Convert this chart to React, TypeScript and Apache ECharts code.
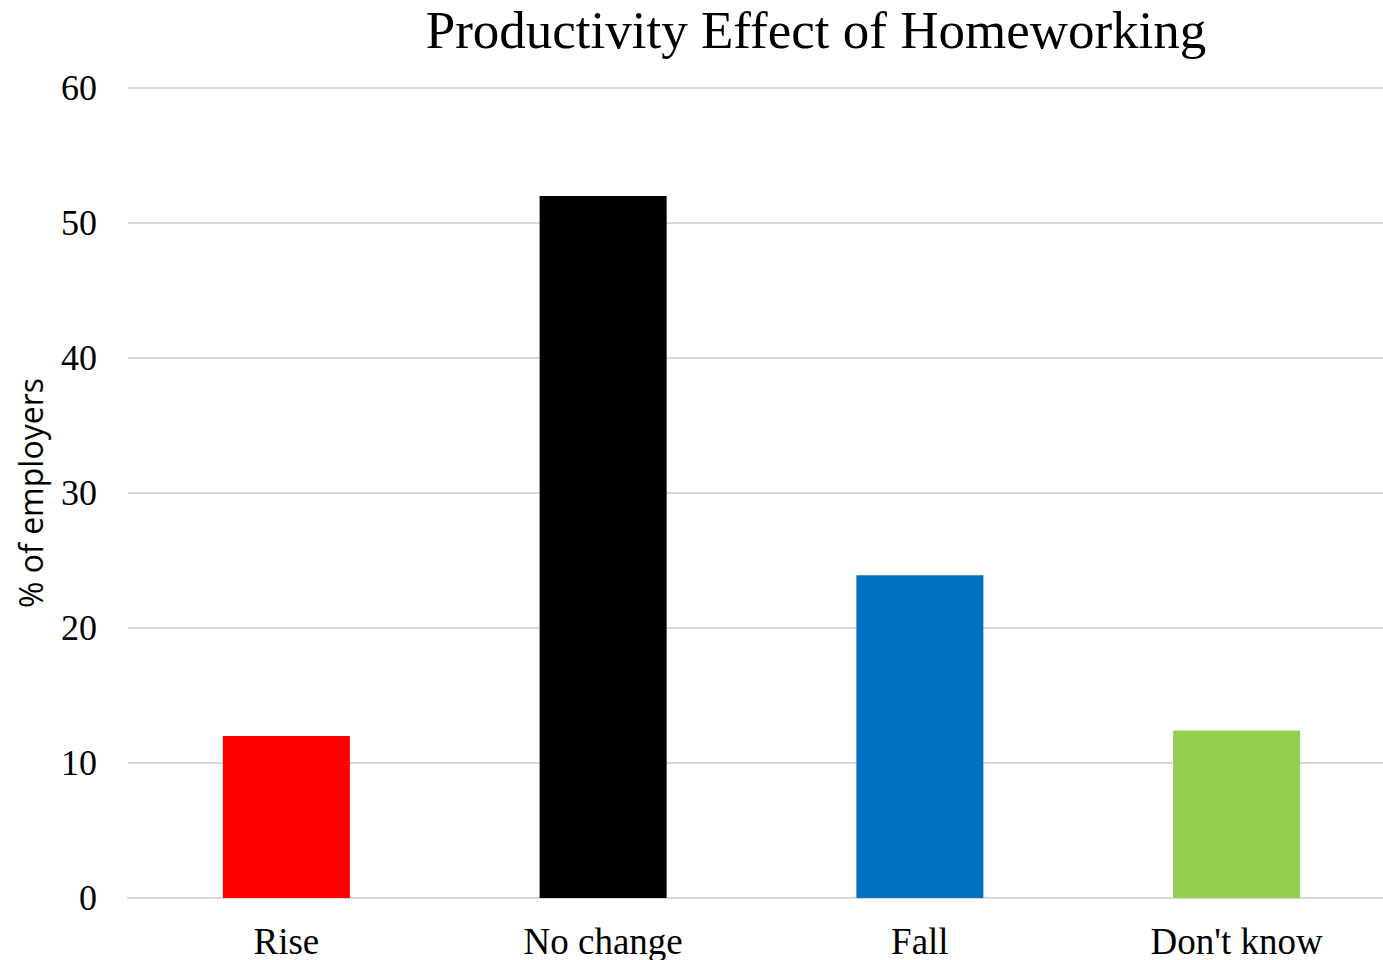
import React, { useEffect, useRef } from "react";
import * as echarts from "echarts";

// Survey responses: share of employers reporting each productivity outcome
const categories = ["Rise", "No change", "Fall", "Don't know"];
const shares = [12, 52, 23.9, 12.4];
const barColors = ["#ff0000", "#000000", "#0070c0", "#92d050"];
const yTicks = { min: 0, max: 60, interval: 10 };

const serif = "'Liberation Serif', 'Times New Roman', serif";

export default function App() {
  const ref = useRef<HTMLDivElement>(null);

  useEffect(() => {
    if (!ref.current) return;
    const chart = echarts.init(ref.current, undefined, { renderer: "svg" });
    chart.setOption({
      animation: false,
      backgroundColor: "#ffffff",
      title: {
        text: "Productivity Effect of Homeworking",
        left: 816,
        top: 0,
        padding: 0,
        textAlign: "center",
        textStyle: {
          fontFamily: serif,
          fontSize: 53,
          lineHeight: 59,
          fontWeight: "normal",
          color: "#000",
        },
      },
      grid: { left: 128, right: 0, top: 88, bottom: 62, containLabel: false },
      xAxis: {
        type: "category",
        data: categories,
        axisLine: { show: true, lineStyle: { color: "#d9d9d9", width: 2 } },
        axisTick: { show: false },
        axisLabel: { fontFamily: serif, fontSize: 37, lineHeight: 32, color: "#000", margin: 27 },
      },
      yAxis: {
        type: "value",
        min: yTicks.min,
        max: yTicks.max,
        interval: yTicks.interval,
        name: "% of employers",
        nameLocation: "middle",
        nameGap: 82,
        nameRotate: 90,
        nameTextStyle: { fontFamily: "'Open Sans', sans-serif", fontSize: 32, color: "#000" },
        axisLine: { show: false },
        axisTick: { show: false },
        axisLabel: { fontFamily: serif, fontSize: 36, color: "#000", margin: 31 },
        splitLine: { lineStyle: { color: "#d9d9d9", width: 2 } },
      },
      series: [
        {
          type: "bar",
          barWidth: "40.1%",
          data: shares.map((v, i) => ({ value: v, itemStyle: { color: barColors[i] } })),
        },
      ],
    });
    return () => chart.dispose();
  }, []);

  // The plot area runs slightly past the right edge of the visible frame.
  return (
    <div
      style={{
        position: "absolute",
        left: 0,
        top: 0,
        width: 1383,
        height: 960,
        overflow: "hidden",
        background: "#fff",
      }}
    >
      <div ref={ref} style={{ width: 1395, height: 960 }} />
    </div>
  );
}
